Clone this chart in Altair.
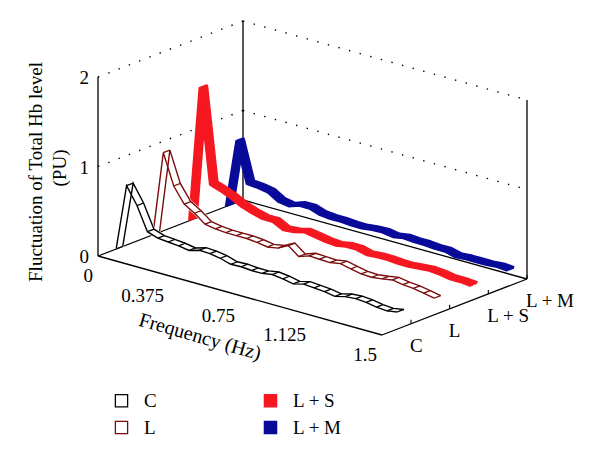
import altair as alt
import pandas as pd

# ------------------------------------------------------------------ data
FREQ = [0.0, 0.055, 0.11, 0.165, 0.22, 0.275, 0.33, 0.385, 0.44, 0.495,
        0.55, 0.605, 0.66, 0.715, 0.77, 0.825, 0.88, 0.935, 0.99, 1.045,
        1.1, 1.155, 1.21, 1.265, 1.32, 1.375, 1.43, 1.485]
SERIES = ["C", "L", "L + S", "L + M"]
SERIES_DEPTH = [0.72, 1.67, 2.62, 3.57]
C_VALUES = [0.0, 0.74, 0.55, 0.29, 0.25, 0.24, 0.23, 0.21, 0.245, 0.24,
            0.22, 0.185, 0.19, 0.18, 0.18, 0.20, 0.185, 0.16, 0.19, 0.18,
            0.17, 0.15, 0.18, 0.19, 0.18, 0.16, 0.15, 0.17]
L_VALUES = [0.0, 0.95, 0.61, 0.44, 0.37, 0.28, 0.26, 0.25, 0.25, 0.25,
            0.24, 0.22, 0.24, 0.30, 0.21, 0.25, 0.245, 0.24, 0.26, 0.235,
            0.21, 0.205, 0.22, 0.24, 0.22, 0.21, 0.19, 0.165]
LS_VALUES = [0.0, 1.51, 0.47, 0.43, 0.38, 0.32, 0.28, 0.25, 0.25, 0.19,
             0.20, 0.23, 0.21, 0.19, 0.18, 0.20, 0.20, 0.17, 0.18, 0.18,
             0.17, 0.17, 0.18, 0.19, 0.18, 0.16, 0.16, 0.15]
LM_VALUES = [0.0, 0.76, 0.32, 0.31, 0.29, 0.22, 0.20, 0.24, 0.24, 0.20,
             0.19, 0.19, 0.18, 0.18, 0.195, 0.20, 0.18, 0.20, 0.19, 0.19,
             0.18, 0.18, 0.15, 0.16, 0.16, 0.16, 0.17, 0.16]
SERIES_VALUES = [C_VALUES, L_VALUES, LS_VALUES, LM_VALUES]

Z_TICKS = [0, 1, 2]
Z_TICK_LABELS = ["0", "1", "2"]
FREQ_TICKS = [0.0, 0.375, 0.75, 1.125, 1.5]
FREQ_TICK_LABELS = ["0", "0.375", "0.75", "1.125", "1.5"]
DEPTH_TICKS = [1, 2, 3, 4]
GRID_Z = [1, 2]

# ------------------------------------------------------------------ style
COLORS = ["#000000", "#7a0c0c", "#f51820", "#0a0a9a"]
HOLLOW = [True, True, False, False]
FONT = "Liberation Serif"
FS = 19
RIBBON = 0.17

# ------------------------------------------------------------------ 3-D box / projection
F_DOM = (0.0, 1.5)
D_DOM = (0.25, 4.0)
Z_DOM = (0.0, 2.0)
ORIGIN = (98.0, 256.0)
F_VEC = (284.0, 79.0)
D_VEC = (145.0, -56.0)
Z_VEC = (0.0, -179.0)


def proj(fc, dc, zc):
    fn = f"((datum.{fc}-{F_DOM[0]})/{F_DOM[1]-F_DOM[0]})"
    dn = f"((datum.{dc}-{D_DOM[0]})/{D_DOM[1]-D_DOM[0]})"
    zn = f"((datum.{zc}-{Z_DOM[0]})/{Z_DOM[1]-Z_DOM[0]})"
    px = f"{ORIGIN[0]}+{F_VEC[0]}*{fn}+{D_VEC[0]}*{dn}+{Z_VEC[0]}*{zn}"
    py = f"{ORIGIN[1]}+{F_VEC[1]}*{fn}+{D_VEC[1]}*{dn}+{Z_VEC[1]}*{zn}"
    return px, py


X = alt.X("px:Q", scale=alt.Scale(domain=[8, 592], nice=False, zero=False), axis=None)
Y = alt.Y("py:Q", scale=alt.Scale(domain=[8, 454], nice=False, zero=False, reverse=True), axis=None)
X2 = alt.X2("px2:Q")
Y2 = alt.Y2("py2:Q")


def seg_layer(rows, **mark):
    df = pd.DataFrame(rows, columns=["f", "d", "z", "f2", "d2", "z2"])
    p1 = proj("f", "d", "z")
    p2 = proj("f2", "d2", "z2")
    return alt.Chart(df).transform_calculate(
        px=p1[0], py=p1[1], px2=p2[0], py2=p2[1]
    ).mark_rule(**mark).encode(x=X, y=Y, x2=X2, y2=Y2)


f0, f1 = F_DOM
d0, d1 = D_DOM
z0, z1 = Z_DOM
frame_rows = [
    (f0, d0, z0, f0, d0, z1),
    (f0, d0, z0, f1, d0, z0),
    (f1, d0, z0, f1, d1, z0),
    (f0, d1, z0, f1, d1, z0),
    (f0, d0, z0, f0, d1, z0),
    (f0, d1, z0, f0, d1, z1),
    (f1, d1, z0, f1, d1, z1),
]
grid_rows = []
for gz in GRID_Z:
    grid_rows.append((f0, d0, gz, f0, d1, gz))
    grid_rows.append((f0, d1, gz, f1, d1, gz))
tick_rows = [(f1, u, z0, f1, u, z0 + 0.045) for u in DEPTH_TICKS]

layers = [
    seg_layer(grid_rows, color="black", strokeWidth=1.4, strokeDash=[1.4, 9.6]),
    seg_layer(frame_rows, color="black", strokeWidth=1.3),
    seg_layer(tick_rows, color="black", strokeWidth=1.1),
]

# ------------------------------------------------------------------ ribbons (back to front)
for k in reversed(range(len(SERIES))):
    s, u, vals, col, hollow = SERIES[k], SERIES_DEPTH[k], SERIES_VALUES[k], COLORS[k], HOLLOW[k]
    sweeps = [0, 0.2, 0.4, 0.6, 0.8, 1.0]
    rows = []
    for t in sweeps:
        for i, (f, z) in enumerate(zip(FREQ, vals)):
            rows.append({"t": t, "i": i, "f": f, "z": z, "d": u + t * RIBBON})
    df = pd.DataFrame(rows)
    pxe, pye = proj("f", "d", "z")
    base = alt.Chart(df).transform_calculate(px=pxe, py=pye)
    enc = dict(x=X, y=Y, detail="t:N", order="i:Q")
    if hollow:
        layers.append(base.mark_line(color="white", strokeWidth=2.4, strokeJoin="round").encode(**enc))
        layers.append(
            base.transform_filter("datum.t == 0 || datum.t == 1")
            .mark_line(color=col, strokeWidth=1.4).encode(**enc)
        )
        cross = [(f, u, z, f, u + RIBBON, z) for f, z in zip(FREQ, vals)]
        layers.append(seg_layer(cross, color=col, strokeWidth=1.3))
    else:
        layers.append(base.mark_line(color=col, strokeWidth=3.2, strokeJoin="round").encode(**enc))

# ------------------------------------------------------------------ tick labels
zdf = pd.DataFrame({"f": f0, "d": d0, "z": Z_TICKS, "label": Z_TICK_LABELS})
p = proj("f", "d", "z")
layers.append(
    alt.Chart(zdf).transform_calculate(px=p[0], py=p[1])
    .mark_text(font=FONT, fontSize=FS, align="right", baseline="middle", dx=-9, dy=1)
    .encode(x=X, y=Y, text="label:N")
)
fdf = pd.DataFrame({"f": FREQ_TICKS, "d": d0, "z": z0, "label": FREQ_TICK_LABELS})
layers.append(
    alt.Chart(fdf).transform_calculate(px=p[0], py=p[1])
    .mark_text(font=FONT, fontSize=FS, align="right", baseline="middle", dx=-5, dy=20)
    .encode(x=X, y=Y, text="label:N")
)
ddf = pd.DataFrame({"f": f1, "d": DEPTH_TICKS, "z": z0, "label": SERIES})
layers.append(
    alt.Chart(ddf).transform_calculate(px=p[0], py=p[1])
    .mark_text(font=FONT, fontSize=FS, align="left", baseline="middle", dx=-1, dy=22)
    .encode(x=X, y=Y, text="label:N")
)

# ------------------------------------------------------------------ axis titles
title_df = pd.DataFrame({"t": ["x"]})
layers.append(
    alt.Chart(title_df).mark_text(font=FONT, fontSize=FS, angle=270, align="center", baseline="middle")
    .encode(x=alt.value(28), y=alt.value(164), text=alt.value("Fluctuation of Total Hb level"))
)
layers.append(
    alt.Chart(title_df).mark_text(font=FONT, fontSize=FS, angle=270, align="center", baseline="middle")
    .encode(x=alt.value(52), y=alt.value(160), text=alt.value("(PU)"))
)
layers.append(
    alt.Chart(title_df).mark_text(font=FONT, fontSize=FS + 1, angle=16, align="center", baseline="middle")
    .encode(x=alt.value(192), y=alt.value(329), text=alt.value("Frequency (Hz)"))
)

# ------------------------------------------------------------------ legend
LEGEND_ORDER = ["C", "L", "L + S", "L + M"]
LEGEND_STROKE = ["#000000", "#7a0c0c", "#f51820", "#0a0a9a"]
LEGEND_FILL = ["#ffffff", "#ffffff", "#f51820", "#0a0a9a"]
leg = alt.Legend(
    orient="none", legendX=104, legendY=383, title=None, columns=2,
    columnPadding=104, rowPadding=7, symbolType="square", symbolSize=150,
    symbolStrokeWidth=1.3, labelFont=FONT, labelFontSize=FS, labelColor="black",
    labelOffset=13, padding=0,
)
ldf = pd.DataFrame({"series": SERIES, "px": -500, "py": -500})
layers.append(
    alt.Chart(ldf).mark_point(shape="square", clip=True, size=150, opacity=1, strokeWidth=1.3)
    .encode(
        x=X, y=Y,
        stroke=alt.Stroke("series:N", scale=alt.Scale(domain=LEGEND_ORDER, range=LEGEND_STROKE), legend=leg),
        fill=alt.Fill("series:N", scale=alt.Scale(domain=LEGEND_ORDER, range=LEGEND_FILL), legend=leg),
    )
)

chart = alt.layer(*layers).properties(
    width=584, height=446, padding=0, autosize="none", background="white"
).configure_view(stroke=None)

chart.save("out.html", embed_options={"renderer": "svg", "actions": False})
